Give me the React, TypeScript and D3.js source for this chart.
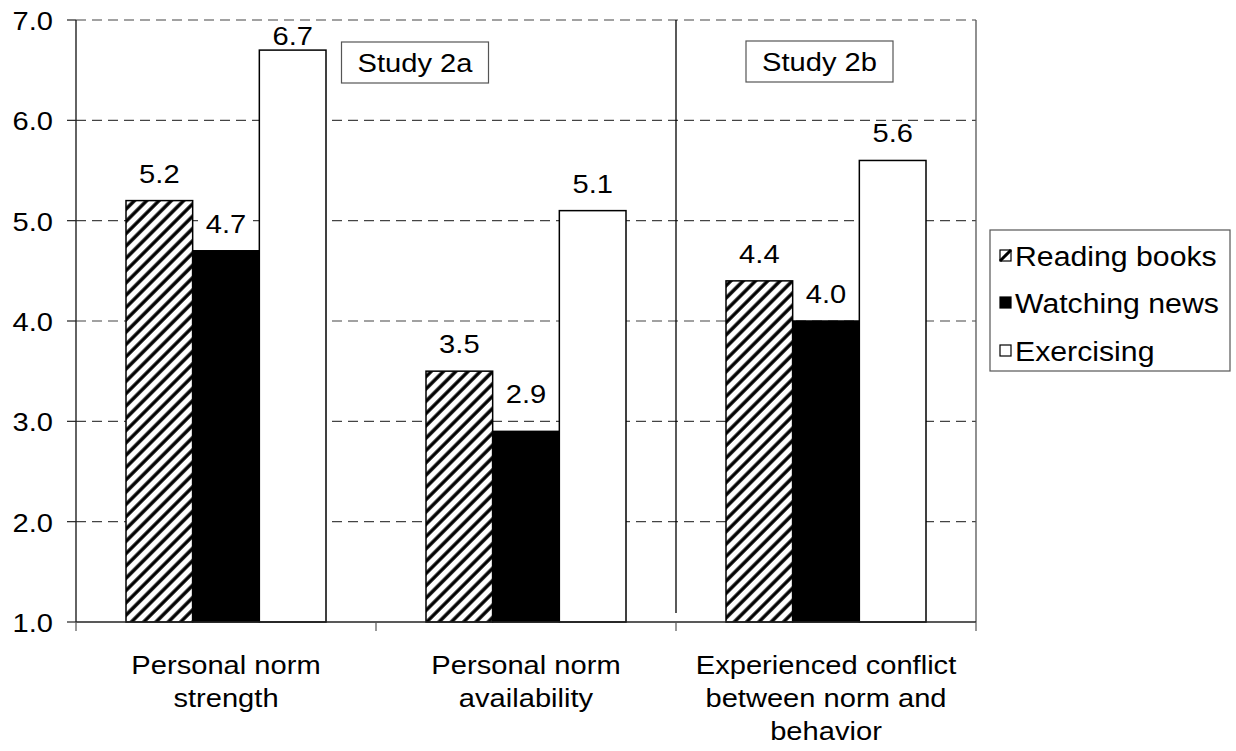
import React from "react";
import * as d3 from "d3";

// Mean ratings per measure and activity
const categories: string[][] = [
  ["Personal norm", "strength"],
  ["Personal norm", "availability"],
  ["Experienced conflict", "between norm and", "behavior"],
];
const seriesNames = ["Reading books", "Watching news", "Exercising"];
const readingBooks = [5.2, 3.5, 4.4];
const watchingNews = [4.7, 2.9, 4.0];
const exercising = [6.7, 5.1, 5.6];
const yTicks = [1, 2, 3, 4, 5, 6, 7];
const studyLabels = ["Study 2a", "Study 2b"];

const W = 1236;
const H = 751;
const M = { left: 76, right: 976, top: 20, bottom: 622 };
const FONT = "'Liberation Sans', Arial, Helvetica, sans-serif";
const FS = 26;
const SX = 1.12; // horizontal stretch applied to all text

// Small label lift override (series, category)
const labelLift: Record<string, number> = { "1-1": 10 };

function T({ x, y, anchor = "middle", size = FS, children }: any) {
  return (
    <g transform={`translate(${x},${y}) scale(${SX},1)`}>
      <text x={0} y={0} textAnchor={anchor} fontSize={size} fontFamily={FONT} fill="#000">
        {children}
      </text>
    </g>
  );
}

export default function App() {
  const series = [readingBooks, watchingNews, exercising];
  const x0 = d3
    .scaleBand<number>()
    .domain(d3.range(categories.length))
    .range([M.left, M.right])
    .paddingInner(1 / 3)
    .paddingOuter(1 / 6);
  const x1 = d3.scaleBand<number>().domain(d3.range(series.length)).range([0, x0.bandwidth()]);
  const y = d3.scaleLinear().domain([1, 7]).range([M.bottom, M.top]);
  const step = x0.step();
  const catLeft = (i: number) => M.left + i * step;

  const fills = ["url(#hatch)", "#000", "#fff"];

  const legendX = 990;
  const legendY = 230;
  const legendRowY = [256, 303, 351];

  const studyBoxes = [
    { cx: 415, y0: 42, y1: 83 },
    { cx: 819.5, y0: 41, y1: 82 },
  ];

  return (
    <svg
      width={W}
      height={H}
      style={{ position: "absolute", left: 0, top: 0, background: "#fff" }}
    >
      <defs>
        <pattern
          id="hatch"
          patternUnits="userSpaceOnUse"
          width={8.7}
          height={8.7}
          patternTransform="rotate(45)"
        >
          <rect width={8.7} height={8.7} fill="#fff" />
          <line x1={2} y1={0} x2={2} y2={8.7} stroke="#000" strokeWidth={3.4} />
        </pattern>
      </defs>

      {/* gridlines */}
      {yTicks
        .filter((t) => t > 1)
        .map((t) => (
          <line
            key={t}
            x1={M.left}
            x2={M.right}
            y1={y(t)}
            y2={y(t)}
            stroke="#444"
            strokeWidth={1.2}
            strokeDasharray="10,6"
          />
        ))}

      {/* right border and study divider */}
      <line x1={M.right} x2={M.right} y1={M.top} y2={M.bottom} stroke="#555" strokeWidth={1.3} />
      <line x1={catLeft(2)} x2={catLeft(2)} y1={M.top} y2={M.bottom - 9} stroke="#000" strokeWidth={1.3} />

      {/* bars */}
      {categories.map((_, ci) =>
        series.map((vals, si) => {
          const bx = (x0(ci) as number) + (x1(si) as number);
          const top = y(vals[ci]);
          return (
            <rect
              key={`${ci}-${si}`}
              x={bx}
              y={top}
              width={x1.bandwidth()}
              height={M.bottom - top}
              fill={fills[si]}
              stroke="#000"
              strokeWidth={1.5}
            />
          );
        })
      )}

      {/* axes */}
      <line x1={M.left} x2={M.left} y1={M.top} y2={M.bottom} stroke="#222" strokeWidth={1.4} />
      <line x1={M.left} x2={M.right} y1={M.bottom} y2={M.bottom} stroke="#222" strokeWidth={1.4} />
      {yTicks.map((t) => (
        <g key={t}>
          <line x1={M.left - 9} x2={M.left} y1={y(t)} y2={y(t)} stroke="#222" strokeWidth={1.2} />
          <T x={53} y={y(t) + 10} anchor="end">
            {d3.format(".1f")(t)}
          </T>
        </g>
      ))}
      {d3.range(categories.length + 1).map((i) => (
        <line
          key={i}
          x1={catLeft(i)}
          x2={catLeft(i)}
          y1={M.bottom}
          y2={M.bottom + 9}
          stroke="#555"
          strokeWidth={1.2}
        />
      ))}

      {/* category labels */}
      {categories.map((lines, ci) =>
        lines.map((ln, li) => (
          <T key={`${ci}-${li}`} x={(x0(ci) as number) + x0.bandwidth() / 2} y={674 + li * 33}>
            {ln}
          </T>
        ))
      )}

      {/* value labels */}
      {categories.map((_, ci) =>
        series.map((vals, si) => {
          const cx = (x0(ci) as number) + (x1(si) as number) + x1.bandwidth() / 2;
          const lift = labelLift[`${si}-${ci}`] || 0;
          const by = Math.max(y(vals[ci]) - 18 - lift, M.top + 25);
          return (
            <g key={`l${ci}-${si}`}>
              <rect x={cx - 27} y={by - 21} width={54} height={25} fill="#fff" />
              <T x={cx} y={by}>
                {d3.format(".1f")(vals[ci])}
              </T>
            </g>
          );
        })
      )}

      {/* study tags */}
      {studyLabels.map((s, i) => (
        <g key={s}>
          <rect
            x={studyBoxes[i].cx - 73.5}
            y={studyBoxes[i].y0}
            width={147}
            height={studyBoxes[i].y1 - studyBoxes[i].y0}
            fill="#fff"
            stroke="#555"
            strokeWidth={1.2}
          />
          <T x={studyBoxes[i].cx} y={studyBoxes[i].y1 - 11}>
            {s}
          </T>
        </g>
      ))}

      {/* legend */}
      <rect
        x={legendX}
        y={legendY}
        width={240}
        height={141}
        fill="#fff"
        stroke="#555"
        strokeWidth={1.2}
      />
      {seriesNames.map((n, i) => (
        <g key={n}>
          <rect
            x={legendX + 10}
            y={legendRowY[i] - 6}
            width={11}
            height={11}
            fill={i === 0 ? "#fff" : fills[i]}
            stroke="#000"
            strokeWidth={1.2}
          />
          {i === 0 && (
            <line
              x1={legendX + 10}
              y1={legendRowY[i] + 5}
              x2={legendX + 21}
              y2={legendRowY[i] - 6}
              stroke="#000"
              strokeWidth={3}
            />
          )}
          <T x={legendX + 25} y={legendRowY[i] + 10} anchor="start" size={27}>
            {n}
          </T>
        </g>
      ))}
    </svg>
  );
}
